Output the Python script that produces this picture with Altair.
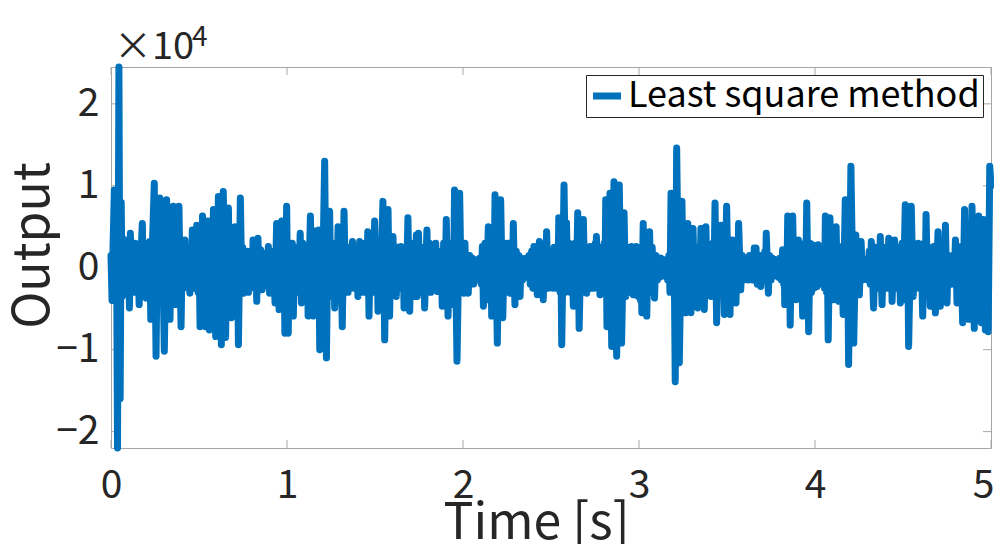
import altair as alt
import pandas as pd

# ---- data: (time [s], output in units of 1e4) ----
seg_0_1 = [
    (0.000, 0.15), (0.006, -0.40), (0.012, 0.30), (0.019, 0.95), (0.025, -0.35), (0.031, 0.55),
    (0.037, -2.20), (0.045, 2.45), (0.052, -1.60), (0.058, 0.80), (0.064, -0.35), (0.071, 0.35),
    (0.078, -0.30), (0.085, 0.30), (0.092, -0.25), (0.099, 0.20), (0.105, -0.49), (0.110, 0.42),
    (0.117, -0.20), (0.124, 0.25), (0.131, -0.30), (0.138, 0.30), (0.145, -0.28), (0.152, 0.18),
    (0.160, -0.45), (0.170, 0.15), (0.178, 0.54), (0.185, -0.30), (0.193, 0.30), (0.200, -0.37),
    (0.207, 0.20), (0.214, -0.20), (0.220, 0.32), (0.226, -0.63), (0.234, 0.20), (0.246, 1.03),
    (0.256, -1.08), (0.263, 0.30), (0.270, -0.40), (0.278, 0.85), (0.285, -0.40), (0.292, 0.45),
    (0.303, -1.02), (0.316, 0.83), (0.322, -0.20), (0.328, 0.35), (0.335, -0.63), (0.344, 0.30),
    (0.349, -0.20), (0.354, 0.75), (0.364, -0.45), (0.372, 0.30), (0.379, -0.25), (0.386, 0.75),
    (0.398, -0.72), (0.405, 0.20), (0.412, -0.25), (0.420, 0.34), (0.428, -0.20), (0.435, 0.20),
    (0.448, -0.31), (0.455, 0.20), (0.458, -0.15), (0.462, 0.46), (0.470, -0.25), (0.478, 0.30),
    (0.483, -0.20), (0.487, 0.52), (0.495, -0.30), (0.500, 0.25), (0.506, -0.72), (0.513, 0.30),
    (0.516, -0.20), (0.520, 0.63), (0.527, -0.35), (0.531, 0.35), (0.536, -0.72), (0.543, 0.25),
    (0.546, -0.20), (0.550, 0.57), (0.559, -0.76), (0.567, 0.25), (0.574, -0.30), (0.582, 0.71),
    (0.595, -0.84), (0.602, 0.30), (0.606, -0.20), (0.610, 0.87), (0.617, -0.30), (0.621, 0.30),
    (0.627, -0.94), (0.638, 0.93), (0.651, -0.85), (0.659, 0.30), (0.663, -0.20), (0.667, 0.73),
    (0.674, -0.30), (0.678, 0.20), (0.684, -0.61), (0.690, 0.25), (0.697, -0.30), (0.705, 0.50),
    (0.712, -0.30), (0.718, 0.30), (0.724, -0.94), (0.735, 0.85), (0.743, -0.20), (0.748, 0.25),
    (0.753, -0.31), (0.760, 0.15), (0.767, -0.20), (0.774, 0.20), (0.781, -0.30), (0.788, 0.20),
    (0.795, -0.20), (0.801, 0.20), (0.804, -0.10), (0.807, 0.34), (0.815, -0.25), (0.822, 0.20),
    (0.828, -0.41), (0.835, 0.36), (0.842, -0.25), (0.850, 0.22), (0.858, -0.27), (0.866, 0.15),
    (0.874, -0.20), (0.881, 0.18), (0.888, -0.22), (0.894, 0.26), (0.901, -0.31), (0.908, 0.20),
    (0.915, -0.25), (0.922, 0.20), (0.932, -0.43), (0.941, 0.54), (0.955, -0.51), (0.962, 0.25),
    (0.966, -0.20), (0.970, 0.57), (0.976, -0.50), (0.982, 0.30), (0.988, -0.80), (0.998, 0.75),
]
seg_1_2 = [
    (1.007, -0.80), (1.015, 0.30), (1.022, -0.30), (1.030, 0.30), (1.036, -0.59), (1.044, 0.25),
    (1.052, -0.30), (1.060, 0.25), (1.067, -0.25), (1.075, 0.42), (1.082, -0.43), (1.090, 0.30),
    (1.098, -0.30), (1.105, 0.25), (1.112, -0.20), (1.116, 0.25), (1.120, -0.59), (1.133, 0.63),
    (1.140, -0.20), (1.144, 0.20), (1.148, -0.59), (1.156, 0.30), (1.162, -0.25), (1.167, 0.45),
    (1.175, -0.30), (1.180, 0.46), (1.186, -1.00), (1.193, 0.40), (1.200, -0.40), (1.207, 0.40),
    (1.214, 1.30), (1.224, -1.10), (1.232, 0.30), (1.237, -0.20), (1.242, 0.69), (1.250, -0.35),
    (1.257, 0.30), (1.263, -0.30), (1.266, 0.20), (1.271, -0.49), (1.280, 0.30), (1.285, -0.20),
    (1.290, 0.50), (1.298, -0.35), (1.306, 0.30), (1.314, -0.72), (1.324, 0.69), (1.333, -0.30),
    (1.340, 0.25), (1.347, -0.30), (1.355, 0.25), (1.362, -0.25), (1.372, 0.32), (1.380, -0.25),
    (1.388, 0.20), (1.392, -0.15), (1.396, 0.20), (1.403, -0.35), (1.413, 0.32), (1.420, -0.25),
    (1.428, 0.25), (1.435, -0.30), (1.443, 0.30), (1.452, -0.30), (1.459, 0.44), (1.466, -0.59),
    (1.474, 0.30), (1.482, -0.30), (1.486, 0.25), (1.490, -0.30), (1.498, 0.57), (1.507, -0.30),
    (1.512, 0.30), (1.517, -0.53), (1.525, 0.30), (1.532, -0.35), (1.545, 0.81), (1.555, -0.88),
    (1.563, 0.40), (1.569, -0.20), (1.574, 0.71), (1.583, -0.59), (1.590, 0.30), (1.596, -0.30),
    (1.602, 0.38), (1.610, -0.25), (1.615, 0.25), (1.621, -0.35), (1.628, 0.25), (1.635, -0.25),
    (1.642, 0.20), (1.645, -0.10), (1.648, 0.26), (1.656, -0.25), (1.660, 0.15), (1.665, -0.49),
    (1.675, 0.25), (1.680, -0.15), (1.687, 0.61), (1.697, -0.53), (1.705, 0.25), (1.712, -0.30),
    (1.720, 0.30), (1.727, -0.35), (1.735, 0.40), (1.740, -0.35), (1.747, 0.42), (1.755, -0.30),
    (1.762, 0.25), (1.770, -0.30), (1.776, 0.20), (1.782, -0.49), (1.795, 0.46), (1.803, -0.30),
    (1.810, 0.30), (1.817, -0.30), (1.825, 0.25), (1.832, -0.25), (1.838, 0.25), (1.841, -0.15),
    (1.845, 0.30), (1.855, -0.29), (1.862, 0.20), (1.870, -0.25), (1.876, 0.20), (1.882, -0.47),
    (1.890, 0.30), (1.898, -0.35), (1.905, 0.59), (1.915, -0.59), (1.925, 0.30), (1.933, -0.40),
    (1.940, 0.30), (1.945, -0.45), (1.952, 0.95), (1.966, -1.14), (1.981, 0.91), (1.990, -0.30),
    (1.997, 0.30),
]
seg_2_3 = [
    (2.005, -0.31), (2.011, 0.30), (2.017, -0.20), (2.023, 0.15), (2.030, -0.31), (2.038, 0.15),
    (2.045, -0.15), (2.052, 0.12), (2.060, -0.20), (2.067, 0.10), (2.075, -0.15), (2.082, 0.10),
    (2.090, -0.15), (2.097, 0.12), (2.104, -0.20), (2.110, 0.26), (2.116, -0.47), (2.125, 0.30),
    (2.133, -0.35), (2.144, 0.50), (2.152, -0.40), (2.158, 0.30), (2.163, -0.59), (2.170, 0.30),
    (2.176, -0.30), (2.182, 0.89), (2.195, -0.92), (2.203, 0.30), (2.208, -0.25), (2.214, 0.83),
    (2.226, -0.61), (2.235, 0.25), (2.241, -0.30), (2.248, 0.30), (2.255, -0.25), (2.262, 0.30),
    (2.268, -0.31), (2.277, 0.25), (2.281, -0.15), (2.286, 0.54), (2.295, -0.45), (2.303, 0.20),
    (2.310, -0.20), (2.317, 0.15), (2.324, -0.35), (2.331, 0.12), (2.338, -0.15), (2.345, 0.10),
    (2.352, -0.12), (2.360, 0.12), (2.368, -0.10), (2.375, 0.15), (2.382, -0.20), (2.390, 0.20),
    (2.397, -0.25), (2.403, 0.26), (2.410, -0.25), (2.416, 0.25), (2.422, -0.33), (2.434, 0.32),
    (2.442, -0.25), (2.449, 0.20), (2.456, -0.39), (2.463, 0.20), (2.469, -0.15), (2.475, 0.44),
    (2.484, -0.25), (2.490, 0.20), (2.494, -0.23), (2.502, 0.20), (2.510, -0.25), (2.518, 0.25),
    (2.526, -0.25), (2.534, 0.25), (2.540, -0.25), (2.544, 0.61), (2.552, -0.30), (2.556, 0.20),
    (2.561, -0.94), (2.574, 1.01), (2.583, -0.30), (2.588, 0.55), (2.595, -0.27), (2.603, 0.30),
    (2.611, -0.30), (2.618, 0.25), (2.627, -0.47), (2.636, 0.30), (2.644, -0.25), (2.652, 0.67),
    (2.660, -0.74), (2.670, 0.30), (2.677, -0.30), (2.684, 0.59), (2.692, -0.30), (2.698, 0.25),
    (2.703, -0.31), (2.710, 0.25), (2.716, -0.20), (2.722, 0.26), (2.730, -0.25), (2.737, 0.25),
    (2.745, -0.25), (2.752, 0.30), (2.755, -0.10), (2.758, 0.38), (2.766, -0.25), (2.772, 0.20),
    (2.778, -0.33), (2.787, 0.25), (2.795, -0.30), (2.802, 0.30), (2.806, -0.25), (2.811, 0.83),
    (2.818, -0.72), (2.826, 0.40), (2.830, -0.30), (2.835, 0.91), (2.845, -0.96), (2.858, 1.05),
    (2.873, -1.08), (2.888, 1.01), (2.901, -0.92), (2.915, 0.67), (2.925, -0.35), (2.932, 0.25),
    (2.939, -0.15), (2.946, 0.20), (2.952, -0.30), (2.958, 0.26), (2.968, -0.33), (2.977, 0.25),
    (2.980, -0.10), (2.984, 0.26), (2.995, -0.35),
]
seg_3_4 = [
    (3.003, 0.25), (3.009, -0.40), (3.012, 0.15), (3.016, -0.55), (3.024, 0.54), (3.030, -0.30),
    (3.035, 0.40), (3.044, -0.59), (3.051, 0.20), (3.055, -0.20), (3.060, 0.44), (3.068, -0.30),
    (3.075, 0.25), (3.081, -0.20), (3.084, 0.10), (3.088, -0.37), (3.096, 0.15), (3.104, -0.15),
    (3.110, 0.10), (3.116, -0.12), (3.123, 0.12), (3.130, -0.10), (3.137, 0.08), (3.145, -0.10),
    (3.153, 0.10), (3.163, -0.15), (3.170, 0.15), (3.176, -0.30), (3.182, 0.91), (3.190, -0.30),
    (3.198, 0.60), (3.206, -1.39), (3.214, 1.46), (3.229, -1.16), (3.244, 0.81), (3.252, -0.40),
    (3.258, 0.40), (3.267, -0.55), (3.277, 0.54), (3.285, -0.35), (3.290, 0.30), (3.295, -0.55),
    (3.300, 0.30), (3.303, -0.20), (3.307, 0.48), (3.316, -0.30), (3.322, 0.25), (3.333, -0.49),
    (3.340, 0.20), (3.346, -0.20), (3.352, 0.48), (3.360, -0.35), (3.365, 0.30), (3.371, -0.51),
    (3.380, 0.50), (3.388, -0.30), (3.395, 0.25), (3.399, -0.25), (3.403, 0.25), (3.409, -0.35),
    (3.418, 0.30), (3.425, -0.25), (3.432, 0.79), (3.441, -0.67), (3.450, 0.30), (3.457, -0.30),
    (3.466, 0.52), (3.475, -0.30), (3.480, 0.30), (3.485, -0.57), (3.498, 0.75), (3.507, -0.30),
    (3.512, 0.30), (3.517, -0.57), (3.525, 0.30), (3.527, -0.10), (3.530, 0.34), (3.540, -0.30),
    (3.545, 0.25), (3.551, -0.43), (3.558, 0.20), (3.561, -0.15), (3.566, 0.54), (3.578, -0.27),
    (3.587, 0.15), (3.594, -0.15), (3.600, 0.12), (3.606, -0.12), (3.613, 0.12), (3.621, -0.15),
    (3.628, 0.15), (3.635, -0.12), (3.642, 0.12), (3.648, -0.15), (3.655, 0.24), (3.661, -0.15),
    (3.665, 0.24), (3.672, -0.20), (3.680, 0.15), (3.692, -0.23), (3.700, 0.15), (3.708, -0.15),
    (3.715, 0.20), (3.719, -0.10), (3.723, 0.42), (3.735, -0.31), (3.742, 0.15), (3.750, -0.15),
    (3.757, 0.12), (3.765, -0.10), (3.772, 0.10), (3.780, -0.10), (3.788, 0.10), (3.795, -0.12),
    (3.802, 0.12), (3.809, -0.15), (3.816, 0.22), (3.822, -0.20), (3.825, 0.10), (3.828, -0.45),
    (3.835, 0.20), (3.840, -0.20), (3.845, 0.63), (3.852, -0.30), (3.855, 0.20), (3.859, -0.70),
    (3.866, 0.30), (3.869, -0.20), (3.873, 0.63), (3.882, -0.30), (3.887, 0.25), (3.892, -0.39),
    (3.900, 0.25), (3.903, -0.10), (3.906, 0.34), (3.913, -0.30), (3.920, 0.25), (3.930, -0.59),
    (3.940, 0.30), (3.946, -0.30), (3.953, 0.79), (3.964, -0.78), (3.972, 0.30), (3.980, -0.30),
    (3.987, 0.28), (3.995, -0.25),
]
seg_4_5 = [
    (4.003, 0.20), (4.011, -0.23), (4.018, 0.28), (4.025, -0.20), (4.032, 0.15), (4.040, -0.20),
    (4.048, 0.25), (4.054, -0.25), (4.059, 0.63), (4.066, -0.30), (4.070, 0.20), (4.075, -0.88),
    (4.085, 0.61), (4.095, -0.30), (4.100, 0.25), (4.106, -0.39), (4.113, 0.20), (4.116, -0.15),
    (4.120, 0.50), (4.127, -0.25), (4.130, 0.20), (4.135, -0.41), (4.145, 0.25), (4.148, -0.10),
    (4.151, 0.26), (4.160, -0.57), (4.172, 0.83), (4.180, -0.40), (4.185, 0.40), (4.191, -1.18),
    (4.204, 1.24), (4.220, -0.92), (4.232, 0.40), (4.242, -0.30), (4.247, 0.20), (4.252, -0.33),
    (4.262, 0.32), (4.270, -0.15), (4.278, 0.10), (4.286, -0.11), (4.294, 0.10), (4.300, -0.15),
    (4.308, 0.20), (4.314, -0.20), (4.320, 0.32), (4.333, -0.49), (4.342, 0.25), (4.350, -0.25),
    (4.357, 0.25), (4.364, -0.25), (4.371, 0.38), (4.381, -0.45), (4.390, 0.25), (4.397, -0.25),
    (4.404, 0.20), (4.410, -0.25), (4.419, 0.36), (4.428, -0.25), (4.432, 0.25), (4.438, -0.41),
    (4.447, 0.25), (4.449, -0.10), (4.452, 0.34), (4.460, -0.25), (4.467, 0.25), (4.474, -0.25),
    (4.479, 0.20), (4.485, -0.43), (4.495, 0.30), (4.503, -0.25), (4.513, 0.77), (4.520, -0.40),
    (4.526, 0.50), (4.532, -0.96), (4.547, 0.75), (4.558, -0.35), (4.568, 0.25), (4.575, -0.25),
    (4.582, 0.25), (4.584, -0.10), (4.587, 0.30), (4.595, -0.25), (4.603, 0.20), (4.612, -0.59),
    (4.620, 0.30), (4.625, -0.30), (4.631, 0.65), (4.640, -0.30), (4.645, 0.25), (4.655, -0.47),
    (4.663, 0.20), (4.670, -0.25), (4.674, 0.26), (4.684, -0.55), (4.699, 0.44), (4.712, -0.47),
    (4.720, 0.25), (4.727, -0.25), (4.734, 0.30), (4.737, -0.15), (4.741, 0.52), (4.750, -0.43),
    (4.757, 0.15), (4.763, -0.15), (4.769, 0.14), (4.775, -0.20), (4.782, 0.15), (4.790, -0.20),
    (4.798, 0.34), (4.807, -0.43), (4.815, 0.25), (4.822, -0.25), (4.828, 0.26), (4.839, -0.67),
    (4.850, 0.71), (4.860, -0.40), (4.866, 0.40), (4.873, -0.63), (4.882, 0.35), (4.887, -0.30),
    (4.892, 0.75), (4.905, -0.74), (4.913, 0.40), (4.920, -0.20), (4.930, 0.63), (4.945, -0.67),
    (4.958, 0.59), (4.968, -0.76), (4.976, 0.50), (4.984, -0.78), (4.993, 1.24), (5.000, 1.00),
]

x_ticks = [0, 1, 2, 3, 4, 5]
y_ticks_e4 = [-2, -1, 0, 1, 2]
x_limits = [0, 5]
y_limits_e4 = [-2.2, 2.45]
series_name = "Least square method"
x_title = "Time [s]"
y_title = "Output"
multiplier_text = ["×10"]
exponent_text = ["4"]

SCALE = 10000
rows = []
for seg in (seg_0_1, seg_1_2, seg_2_3, seg_3_4, seg_4_5):
    for t, v in seg:
        rows.append({"time": t, "output": v * SCALE, "series": series_name})
df = pd.DataFrame(rows)

W, H = 880, 381
FONT = "Noto Sans CJK JP"
AXC = "#262626"
BOX = "#a6a6a6"
BLUE = "#0072BD"
TICK_FS = 39
TITLE_FS = 50

x_scale = alt.Scale(domain=x_limits, nice=False, zero=False)
y_scale = alt.Scale(domain=[v * SCALE for v in y_limits_e4], nice=False, zero=False)

last_x = x_limits[1]
x_axis = alt.Axis(
    values=x_ticks, format="d", grid=False, domain=False, ticks=False,
    labelFont=FONT, labelFontSize=TICK_FS, labelColor=AXC, labelPadding=18, labelFlush=False,
    labelAlign={"condition": {"test": f"datum.value == {last_x}", "value": "right"}, "value": "center"},
    labelOffset={"condition": {"test": f"datum.value == {last_x}", "value": 3}, "value": 0},
    titleFont=FONT, titleFontSize=TITLE_FS, titleFontWeight="normal", titleColor=AXC,
    titleX=425, titleY=90, titleBaseline="alphabetic",
)
y_axis = alt.Axis(
    values=[v * SCALE for v in y_ticks_e4], grid=False, domain=False, ticks=False,
    labelExpr="format(datum.value / 10000, 'd')",
    labelFont=FONT, labelFontSize=TICK_FS, labelColor=AXC, labelPadding=12, labelFlush=False,
    titleFont=FONT, titleFontSize=TITLE_FS, titleFontWeight="normal", titleColor=AXC,
    titleAngle=270, titleX=-63, titleY=178, titleBaseline="alphabetic", titleAlign="center",
)

line = alt.Chart(df).mark_line(
    strokeWidth=7, strokeCap="round", strokeJoin="round", clip=False
).encode(
    x=alt.X("time:Q", scale=x_scale, axis=x_axis, title=x_title),
    y=alt.Y("output:Q", scale=y_scale, axis=y_axis, title=y_title),
    color=alt.Color(
        "series:N",
        scale=alt.Scale(domain=[series_name], range=[BLUE]),
        legend=alt.Legend(
            title=None, orient="top-right", offset=8, padding=3,
            strokeColor=AXC, fillColor="white", cornerRadius=0,
            symbolType="stroke", symbolSize=784, symbolStrokeWidth=7,
            labelFont=FONT, labelFontSize=36, labelColor="black",
            labelOffset=3, labelLimit=600,
        ),
    ),
    order="time:Q",
)

xt_df = pd.DataFrame({"time": x_ticks})
yt_df = pd.DataFrame({"output": [v * SCALE for v in y_ticks_e4]})
TL = 8
x_tick_top = alt.Chart(xt_df).mark_rule(color=BOX, strokeWidth=1).encode(
    x=alt.X("time:Q", scale=x_scale, title=x_title), y=alt.value(0), y2=alt.value(TL))
x_tick_bot = alt.Chart(xt_df).mark_rule(color=BOX, strokeWidth=1).encode(
    x=alt.X("time:Q", scale=x_scale, title=x_title), y=alt.value(H - TL), y2=alt.value(H))
y_tick_left = alt.Chart(yt_df).mark_rule(color=BOX, strokeWidth=1).encode(
    y=alt.Y("output:Q", scale=y_scale, title=y_title), x=alt.value(0), x2=alt.value(TL))
y_tick_right = alt.Chart(yt_df).mark_rule(color=BOX, strokeWidth=1).encode(
    y=alt.Y("output:Q", scale=y_scale, title=y_title), x=alt.value(W - TL), x2=alt.value(W))

mult = alt.Chart(pd.DataFrame({"t": multiplier_text})).mark_text(
    align="left", baseline="alphabetic", font=FONT, fontSize=38, color=AXC
).encode(x=alt.value(3), y=alt.value(-8), text="t:N")
expo = alt.Chart(pd.DataFrame({"t": exponent_text})).mark_text(
    align="left", baseline="alphabetic", font=FONT, fontSize=28, color=AXC
).encode(x=alt.value(81), y=alt.value(-21), text="t:N")

chart = alt.layer(
    x_tick_top, x_tick_bot, y_tick_left, y_tick_right, line, mult, expo
).properties(
    width=W, height=H,
    autosize=alt.AutoSizeParams(type="none"),
    padding={"left": 103, "top": 59, "right": 3, "bottom": 96},
    background="white",
).configure_view(stroke=BOX, strokeWidth=1)

chart.save("out.html", embed_options={"renderer": "svg", "actions": False})
